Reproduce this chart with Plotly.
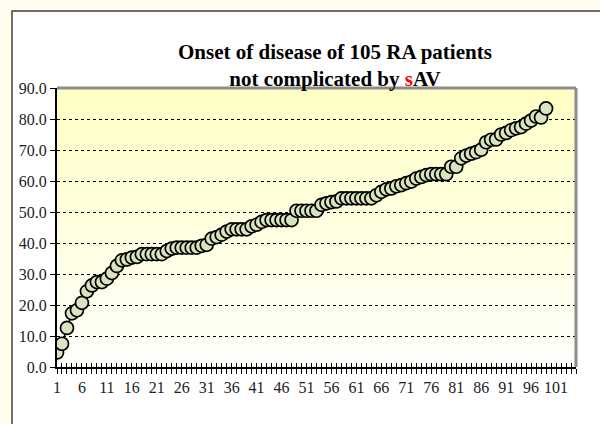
import plotly.graph_objects as go

# ---- data ----
patients = list(range(1, 100))
onset_age = [4.7, 7.5, 12.6, 17.3, 18.3, 20.7, 24.4, 26.3, 27.4, 27.4,
             28.5, 30.3, 32.6, 34.4, 34.7, 35.3, 35.5, 36.4, 36.4, 36.4,
             36.4, 36.4, 37.4, 38.2, 38.5, 38.5, 38.5, 38.5, 38.5, 39.1,
             39.4, 41.4, 41.9, 42.7, 43.7, 44.4, 44.4, 44.4, 44.4, 45.4,
             45.9, 46.8, 47.4, 47.4, 47.4, 47.4, 47.4, 47.4, 50.4, 50.4,
             50.4, 50.4, 50.4, 52.3, 52.8, 53.2, 53.4, 54.4, 54.4, 54.4,
             54.4, 54.4, 54.4, 54.4, 55.4, 56.5, 57.3, 57.6, 58.3, 58.7,
             59.3, 59.8, 60.8, 61.3, 61.9, 62.2, 62.2, 62.2, 62.2, 64.6,
             64.6, 67.3, 68.2, 68.8, 69.3, 70.1, 72.5, 73.3, 73.4, 75.0,
             75.5, 76.4, 77.0, 77.4, 78.5, 79.5, 80.8, 80.5, 83.4]
y_tick_values = [0, 10, 20, 30, 40, 50, 60, 70, 80, 90]

# ---- layout geometry (pixels) ----
W, H = 600, 424
L, R, T, B = 57, 24, 88, 57
pw, ph = W - L - R, H - T - B

def px_x(p):
    return (p - L) / pw

def px_y(p):
    return (H - B - p) / ph

fig = go.Figure()

fig.add_trace(go.Scatter(
    x=patients, y=onset_age, mode="lines+markers",
    line=dict(color="black", width=1.5),
    marker=dict(size=13, color="#D7E4BD", line=dict(color="black", width=1.7)),
    showlegend=False, hoverinfo="x+y"))

# invisible trace to carry the inside half of the cross ticks
fig.add_trace(go.Scatter(x=[1], y=[0], xaxis="x2", mode="markers",
                         marker=dict(opacity=0), showlegend=False, hoverinfo="skip"))

shapes = []
# white chart box with border
shapes.append(dict(type="rect", xref="paper", yref="paper",
                   x0=px_x(12), x1=px_x(W + 10), y0=px_y(H + 10), y1=px_y(11),
                   fillcolor="white", line=dict(color="#404040", width=1.5), layer="below"))
# gradient plot area background
n = 60
top = (255, 255, 196)
bot = (255, 255, 252)
for i in range(n):
    f = (i + 0.5) / n
    c = tuple(round(bot[k] + (top[k] - bot[k]) * f) for k in range(3))
    shapes.append(dict(type="rect", xref="x domain", yref="y domain",
                       x0=0, x1=1, y0=i / n, y1=(i + 1) / n + 0.002,
                       fillcolor="rgb(%d,%d,%d)" % c, line=dict(width=0), layer="below"))
# gray top and right plot-area border
shapes.append(dict(type="line", xref="x domain", yref="y domain", x0=0, x1=1, y0=1, y1=1,
                   line=dict(color="#8C8C8C", width=3), layer="above"))
shapes.append(dict(type="line", xref="x domain", yref="y domain", x0=1, x1=1, y0=0, y1=1,
                   line=dict(color="#8C8C8C", width=3), layer="above"))

tick_font = dict(family="Liberation Serif, Times New Roman, serif", size=16, color="#222222")

fig.update_layout(
    width=W, height=H,
    margin=dict(l=L, r=R, t=T, b=B, pad=0),
    paper_bgcolor="#FFFDEE",
    plot_bgcolor="rgba(0,0,0,0)",
    shapes=shapes,
    xaxis=dict(range=[1, 105], tickmode="linear", tick0=1, dtick=5,
               showgrid=False, zeroline=False, showline=True, linecolor="black", linewidth=2,
               ticks="outside", ticklen=5, tickwidth=1, tickcolor="black",
               minor=dict(dtick=1, tick0=1, ticks="outside", ticklen=5, tickwidth=1, tickcolor="black"),
               tickfont=tick_font),
    xaxis2=dict(range=[1, 105], overlaying="x", anchor="y", tickmode="linear", tick0=1, dtick=1,
                showgrid=False, zeroline=False, showline=False, showticklabels=False,
                ticks="inside", ticklen=4, tickwidth=1, tickcolor="black", side="bottom"),
    yaxis=dict(range=[0, 90], tickmode="array", tickvals=y_tick_values,
               ticktext=["%.1f" % v for v in y_tick_values],
               showgrid=True, gridcolor="black", griddash="dot", gridwidth=1,
               zeroline=False, showline=True, linecolor="black", linewidth=2,
               ticks="outside", ticklen=5, tickcolor="black", tickfont=tick_font),
    annotations=[dict(
        xref="paper", yref="paper", x=px_x(335), y=px_y(65), xanchor="center", yanchor="middle",
        text="<b>Onset of disease of 105 RA patients<br>not complicated by "
             "<span style='color:#FF0000'>s</span>AV</b>",
        showarrow=False, align="center",
        font=dict(family="Liberation Serif, Times New Roman, serif", size=21, color="black"))],
)

fig.write_html("out.html",
               config={"displayModeBar": False},
               post_script="document.body.style.margin='0';"
                           "document.body.style.overflow='hidden';"
                           "document.body.style.background='#FFFDEE';")
